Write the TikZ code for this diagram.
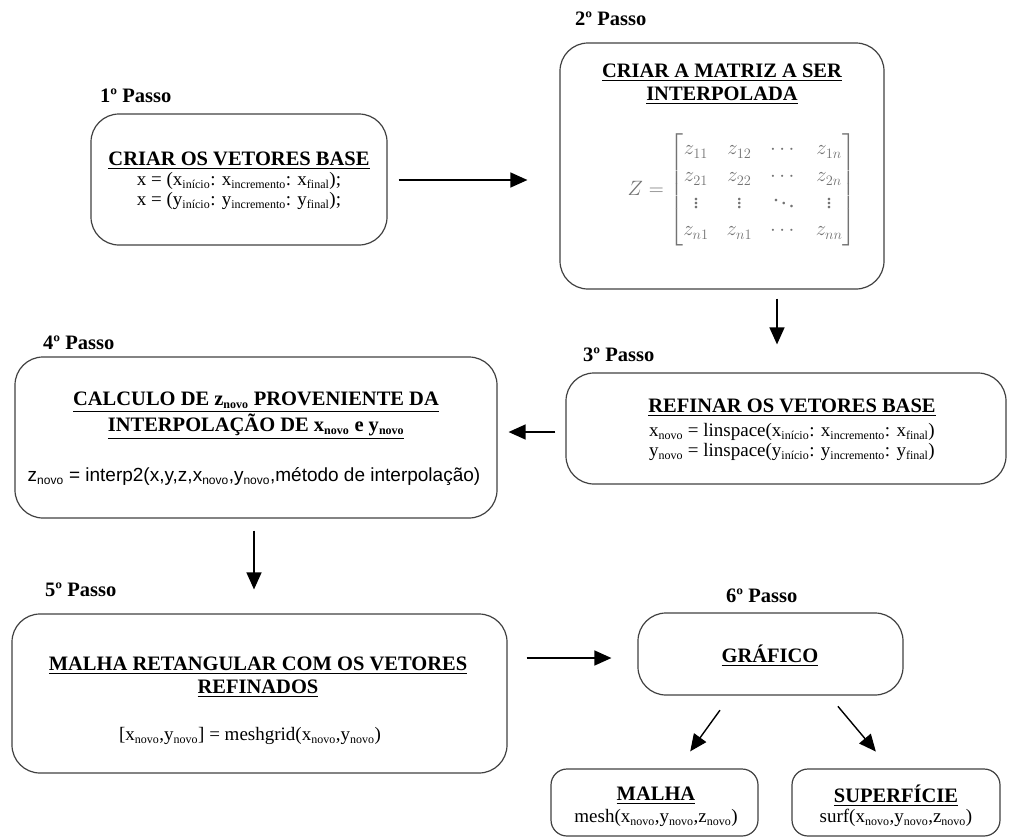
\documentclass[tikz,border=0pt]{standalone}
\usepackage{fontspec}
\usepackage{amsmath}
\setmainfont{Liberation Serif}
\newfontfamily\formfont{Liberation Sans}
\usetikzlibrary{arrows.meta}

\newcommand{\subtx}[1]{\textsubscript{\fontsize{12}{12}\selectfont #1}}
\newcommand{\headfont}{\fontsize{20.5}{23}\selectfont\bfseries}
\newcommand{\bodyfont}{\fontsize{19}{20}\selectfont}

\tikzset{
  caixa/.style={draw=black!75, line width=1.2pt, rounded corners=28pt},
  caixinha/.style={draw=black!75, line width=1.2pt, rounded corners=16pt},
  seta/.style={line width=1.4pt, -{Triangle[length=17pt,width=15pt]}},
  passo/.style={anchor=west, inner sep=0pt, font=\headfont},
  titulo/.style={align=center, inner sep=0pt, font=\headfont},
  texto/.style={align=center, inner sep=0pt, font=\bodyfont}
}

\begin{document}
\begin{tikzpicture}[x=1pt,y=-1pt]

      \useasboundingbox (0,0) rectangle (1010,839);

      % caixas
      \begin{scope}[every node/.style={caixa}]
        \node[minimum width=296pt, minimum height=131pt] (b1) at (239,179.5) {};
        \node[minimum width=324pt, minimum height=246pt] (b2) at (722,166) {};
        \node[minimum width=440pt, minimum height=111pt] (b3) at (786,428.5) {};
        \node[minimum width=482pt, minimum height=161pt] (b4) at (256,437.5) {};
        \node[minimum width=495pt, minimum height=159pt] (b5) at (259.5,693.5) {};
        \node[minimum width=265pt, minimum height=82pt] (b6) at (770.5,654) {};
      \end{scope}
      \node[caixinha, minimum width=207pt, minimum height=67pt] (b7) at (654.5,802.5) {};
      \node[caixinha, minimum width=208pt, minimum height=67pt] (b8) at (896,802.5) {};

      % passos
      \node[passo] (p1) at (100,96) {1º Passo};
      \node[passo] (p2) at (575,19) {2º Passo};
      \node[passo] (p3) at (583,355) {3º Passo};
      \node[passo] (p4) at (43,343) {4º Passo};
      \node[passo] (p5) at (45,590) {5º Passo};
      \node[passo] (p6) at (726,596) {6º Passo};

      % textos
      \node[titulo] (h1) at (239,161) {\underline{CRIAR OS VETORES BASE}};
      \node[texto] (c1) at (239,191) {x = (x\subtx{início}: x\subtx{incremento}: x\subtx{final});\\
        x = (y\subtx{início}: y\subtx{incremento}: y\subtx{final});};

      \node[titulo] (h2) at (722,84) {\underline{CRIAR A MATRIZ A SER}\\\underline{INTERPOLADA}};
      \node[inner sep=0pt, text=black!55] (c2) at (742,190) {\fontsize{22}{27}\selectfont
        \setlength{\arraycolsep}{9pt}%
        $Z = \begin{bmatrix}
          z_{11} & z_{12} & \cdots & z_{1n}\\
          z_{21} & z_{22} & \cdots & z_{2n}\\
          \vdots & \vdots & \ddots & \vdots\\
          z_{n1} & z_{n1} & \cdots & z_{nn}
        \end{bmatrix}$};

      \node[titulo] (h3) at (792,408) {\underline{REFINAR OS VETORES BASE}};
      \node[texto] (c3) at (792,442) {x\subtx{novo} = linspace(x\subtx{início}: x\subtx{incremento}: x\subtx{final})\\
        y\subtx{novo} = linspace(y\subtx{início}: y\subtx{incremento}: y\subtx{final})};

      \node[titulo] (h4) at (256,416) {\underline{CALCULO DE z\subtx{novo} PROVENIENTE DA}\\
        \underline{INTERPOLAÇÃO DE x\subtx{novo} e y\subtx{novo}}};
      \node[texto, font=\formfont\fontsize{19}{20}\selectfont] (c4) at (254,477)
        {z\subtx{novo} = interp2(x,y,z,x\subtx{novo},y\subtx{novo},método de interpolação)};

      \node[titulo] (h5) at (258,677) {\underline{MALHA RETANGULAR COM OS VETORES}\\\underline{REFINADOS}};
      \node[texto] (c5) at (250,736) {[x\subtx{novo},y\subtx{novo}] = meshgrid(x\subtx{novo},y\subtx{novo})};

      \node[titulo] (h6) at (770,656) {\underline{GRÁFICO}};

      \node[titulo] (h7) at (656,796) {\underline{MALHA}};
      \node[texto] (c7) at (656,818) {mesh(x\subtx{novo},y\subtx{novo},z\subtx{novo})};
      \node[titulo] (h8) at (896,796) {\underline{SUPERFÍCIE}};
      \node[texto] (c8) at (896,818) {surf(x\subtx{novo},y\subtx{novo},z\subtx{novo})};

      % setas
      \begin{scope}[every edge/.style={draw, seta}]
        \path ([yshift=-0.5pt]b1.east) edge[shorten <=11pt, shorten >=32pt] ([yshift=-0.5pt]b1.east -| b2.west);
        \path ([xshift=55pt]b2.south) edge[shorten <=9pt, shorten >=28pt] ([xshift=55pt]b2.south |- b3.north);
        \path ([yshift=-3.5pt]b3.west) edge[shorten <=10pt, shorten >=11pt] ([yshift=-3.5pt]b3.west -| b4.east);
        \path ([xshift=-2pt]b4.south) edge[shorten <=12pt, shorten >=24pt] ([xshift=-2pt]b4.south |- b5.north);
        \path ([yshift=-4pt]b6.west -| b5.east) edge[shorten <=19pt, shorten >=26pt] ([yshift=-4pt]b6.west);
        \path ([xshift=-40pt]b6.south) edge[shorten <=18pt, shorten >=21pt] ([xshift=23.4pt]b7.north);
        \path ([xshift=58.4pt]b6.south) edge[shorten <=14pt, shorten >=22pt] ([xshift=-6pt]b8.north);
      \end{scope}

    \end{tikzpicture}
\end{document}
